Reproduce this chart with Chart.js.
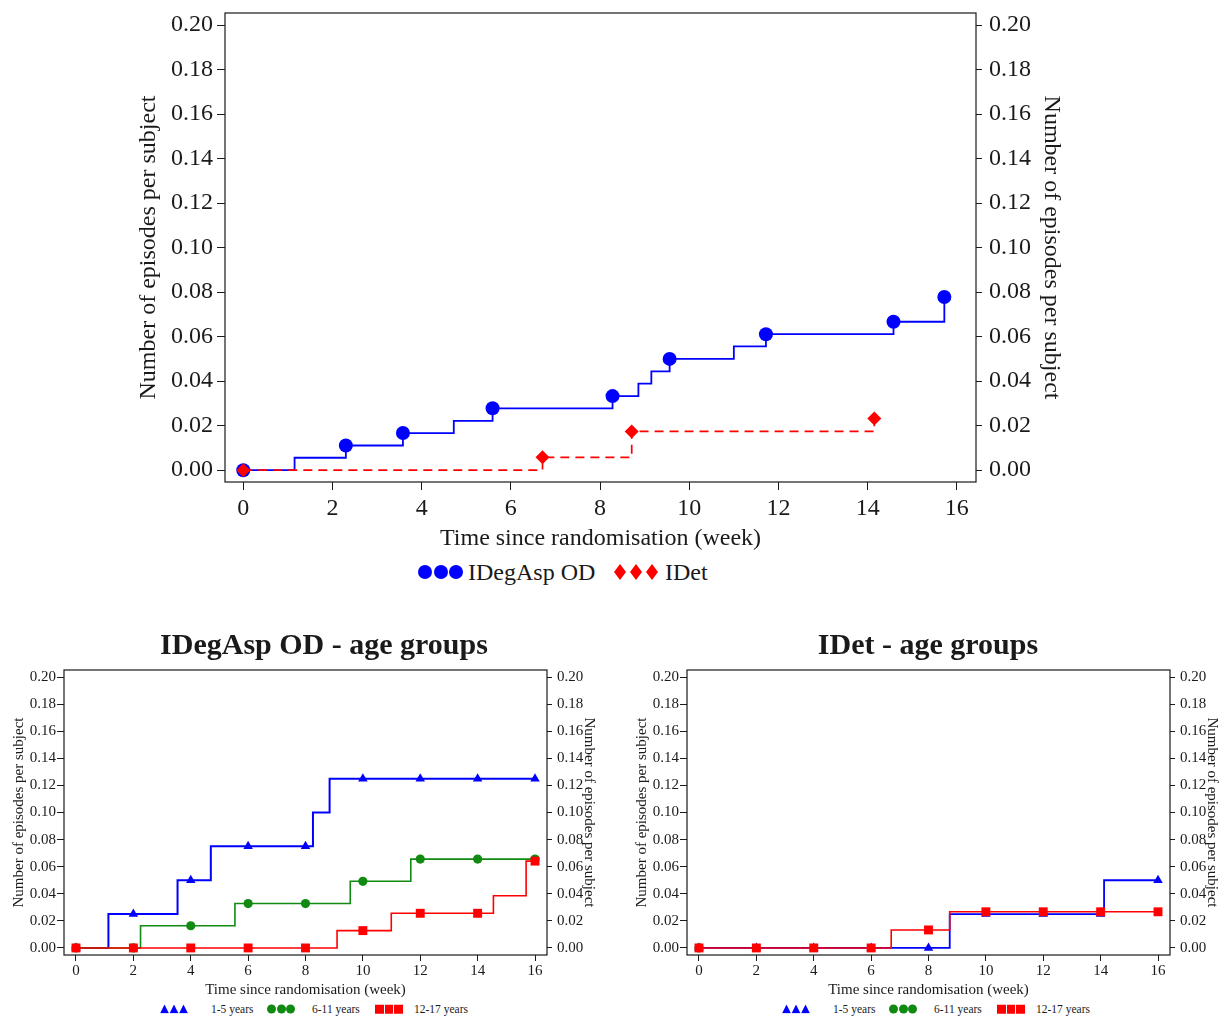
<!DOCTYPE html>
<html>
<head>
<meta charset="utf-8">
<script src="https://cdn.jsdelivr.net/npm/chart.js@4"></script>
<style>
  body{margin:0;background:#fff;width:1227px;height:1019px;position:relative;overflow:hidden;
       font-family:'Liberation Serif','Times New Roman',serif;color:#1a1a1a}
  canvas{position:absolute}
  .ttl{position:absolute;font-weight:bold;font-size:30px;transform:translate(-50%,-50%);white-space:nowrap}
  .lt{position:absolute;white-space:nowrap;transform:translateY(-50%)}
  .mk{position:absolute;transform:translateY(-50%)}
</style>
</head>
<body>
<canvas id="topChart" width="940" height="557" style="left:130px;top:0px"></canvas>
<canvas id="degChart" width="596" height="343" style="left:6px;top:660px"></canvas>
<canvas id="detChart" width="596" height="343" style="left:629px;top:660px"></canvas>

<div class="ttl" style="left:324px;top:644px">IDegAsp OD - age groups</div>
<div class="ttl" style="left:928px;top:644px">IDet - age groups</div>
<div id="legends"></div>

<script>
// ---- data ----
const weekTicks = [0, 2, 4, 6, 8, 10, 12, 14, 16];
const rateTicks = [0, 0.02, 0.04, 0.06, 0.08, 0.10, 0.12, 0.14, 0.16, 0.18, 0.20];

// top panel: whole trial
const degWeeks = [0, 1.15, 2.3, 3.58, 4.72, 5.59, 8.28, 8.86, 9.15, 9.56, 11.0, 11.72, 14.58, 15.72];
const degRate  = [0, 0.0056, 0.0111, 0.0167, 0.0222, 0.0278, 0.0333, 0.0389, 0.0444, 0.05, 0.0556, 0.0611, 0.0667, 0.0778];
const degMarkWeeks = [0, 2.3, 3.58, 5.59, 8.28, 9.56, 11.72, 14.58, 15.72];
const degMarkRate  = [0, 0.0111, 0.0167, 0.0278, 0.0333, 0.05, 0.0611, 0.0667, 0.0778];
const detWeeks = [0, 6.71, 8.71, 14.15];
const detRate  = [0, 0.0058, 0.0174, 0.0232];

// bottom-left: IDegAsp OD by age group
const degYoungWeeks = [0, 1.13, 3.54, 4.70, 8.26, 8.84, 16];
const degYoungRate  = [0, 0.025, 0.05, 0.075, 0.10, 0.125, 0.125];
const degMidWeeks = [0, 2.25, 5.54, 9.56, 11.67, 16];
const degMidRate  = [0, 0.0164, 0.0328, 0.0492, 0.0656, 0.0656];
const degOldWeeks = [0, 9.10, 10.99, 14.55, 15.69, 16];
const degOldRate  = [0, 0.0128, 0.0256, 0.0385, 0.0641, 0.0641];
const degYoungMarks = [0, 0.025, 0.05, 0.075, 0.075, 0.125, 0.125, 0.125, 0.125];
const degMidMarks   = [0, 0, 0.0164, 0.0328, 0.0328, 0.0492, 0.0656, 0.0656, 0.0656];
const degOldMarks   = [0, 0, 0, 0, 0, 0.0128, 0.0256, 0.0256, 0.0641];

// bottom-right: IDet by age group
const detYoungWeeks = [0, 8.74, 14.12, 16];
const detYoungRate  = [0, 0.025, 0.05, 0.05];
const detMidWeeks = [0];
const detMidRate  = [0];
const detOldWeeks = [0, 6.70, 8.74, 16];
const detOldRate  = [0, 0.0133, 0.0267, 0.0267];
const detYoungMarks = [0, 0, 0, 0, 0, 0.025, 0.025, 0.025, 0.05];
const detMidMarks   = [0];
const detOldMarks   = [0, 0, 0, 0, 0.0133, 0.0267, 0.0267, 0.0267, 0.0267];

const BLUE = '#0000ff', RED = '#ff0000', GREEN = '#118a11', INK = '#1a1a1a';
const SERIF = "'Liberation Serif','Times New Roman',serif";

function pts(xs, ys){ return ys.map((y,i)=>({x:xs[i], y})); }
function stepLine(xs, ys, color, width, dash){
  return {data:pts(xs,ys), borderColor:color, borderWidth:width, borderDash:dash||[],
          stepped:'before', pointRadius:0, fill:false};
}
function marks(xs, ys, color, style, r){
  return {data:pts(xs,ys), showLine:false, pointStyle:style, pointRadius:r,
          pointBackgroundColor:color, pointBorderColor:color, pointBorderWidth:0,
          borderColor:color, backgroundColor:color};
}

// R-style closed box around the plot
const boxPlugin = {
  id:'box',
  afterDraw(chart){
    const {ctx, chartArea:a} = chart;
    ctx.save(); ctx.strokeStyle = INK; ctx.lineWidth = 1.2;
    ctx.strokeRect(a.left, a.top, a.right-a.left, a.bottom-a.top);
    ctx.restore();
  }
};

function yAxis(pos, o){
  return {
    type:'linear', position:pos, min:o.ymin, max:o.ymax,
    afterBuildTicks: s=>{ s.ticks = rateTicks.map(v=>({value:v})); },
    afterFit: s=>{ s.width = pos==='left' ? o.lw : o.rw; s.paddingTop = 0; s.paddingBottom = 0; },
    ticks:{ callback:v=>v.toFixed(2), font:{family:SERIF,size:o.fs}, color:INK,
            padding: pos==='left' ? o.lpad : o.rpad },
    grid:{ drawOnChartArea:false, tickLength: pos==='left' ? o.ltl : o.rtl, color:INK, lineWidth:1 },
    border:{display:false},
    title:{ display:true, text:'Number of episodes per subject', color:INK,
            font:{family:SERIF,size:o.ts}, padding:{top:4,bottom:4} }
  };
}

function makeChart(id, datasets, o){
  return new Chart(document.getElementById(id), {
    type:'line',
    data:{datasets},
    options:{
      responsive:false, animation:false, clip:false,
      layout:{padding:{top:o.padTop, left:0, right:0, bottom:0}},
      plugins:{legend:{display:false}, tooltip:{enabled:false}},
      scales:{
        x:{
          type:'linear', min:o.xmin, max:o.xmax,
          afterBuildTicks: s=>{ s.ticks = weekTicks.map(v=>({value:v})); },
          afterFit: s=>{ s.height = o.xh; s.paddingLeft = 0; s.paddingRight = 0; },
          ticks:{ callback:v=>String(v), font:{family:SERIF,size:o.fs}, color:INK,
                  padding:o.xpad, maxRotation:0, autoSkip:false },
          grid:{ drawOnChartArea:false, tickLength:o.xtl, color:INK, lineWidth:1 },
          border:{display:false},
          title:{ display:true, text:'Time since randomisation (week)', color:INK,
                  font:{family:SERIF,size:o.ts}, padding:{top:0,bottom:4} }
        },
        y: yAxis('left', o),
        y2: yAxis('right', o)
      }
    },
    plugins:[boxPlugin]
  });
}

// top panel
makeChart('topChart', [
  marks(detWeeks, detRate, RED, 'rectRot', 7),
  stepLine(detWeeks, detRate, RED, 1.7, [9,6]),
  marks(degMarkWeeks, degMarkRate, BLUE, 'circle', 7),
  stepLine(degWeeks, degRate, BLUE, 1.8)
], {padTop:13, xmin:-0.41, xmax:16.43, ymin:-0.0053, ymax:0.2054,
    lw:95, rw:94, xh:75, fs:24, ts:24, lpad:4, rpad:7, ltl:8, rtl:6, xtl:8, xpad:4});

const smallOpts = {padTop:10, xmin:-0.418, xmax:16.418, ymin:-0.0052, ymax:0.2052,
    lw:58, rw:55, xh:48, fs:15, ts:15, lpad:1, rpad:5, ltl:7, rtl:5, xtl:6, xpad:1};

makeChart('degChart', [
  marks(weekTicks, degOldMarks, RED, 'rect', 6.3),
  stepLine(degOldWeeks, degOldRate, RED, 1.6),
  marks(weekTicks, degMidMarks, GREEN, 'circle', 4.6),
  stepLine(degMidWeeks, degMidRate, GREEN, 1.6),
  marks(weekTicks, degYoungMarks, BLUE, 'triangle', 5.5),
  stepLine(degYoungWeeks, degYoungRate, BLUE, 2)
], smallOpts);

makeChart('detChart', [
  marks(weekTicks, detOldMarks, RED, 'rect', 6.3),
  stepLine(detOldWeeks, detOldRate, RED, 1.6),
  marks(weekTicks.slice(0, detMidMarks.length), detMidMarks, GREEN, 'circle', 4.6),
  stepLine(detMidWeeks, detMidRate, GREEN, 1.6),
  marks(weekTicks, detYoungMarks, BLUE, 'triangle', 5.5),
  stepLine(detYoungWeeks, detYoungRate, BLUE, 1.8)
], smallOpts);

// legends (three markers + label, as in the R output)
const legendHost = document.getElementById('legends');
function shape(kind, color, w, h){
  const s = document.createElement('span');
  s.style.cssText = `position:absolute;width:${w}px;height:${h}px;background:${color};`;
  if(kind==='circle') s.style.borderRadius = '50%';
  if(kind==='diamond') s.style.clipPath = 'polygon(50% 0,100% 50%,50% 100%,0 50%)';
  if(kind==='triangle') s.style.clipPath = 'polygon(50% 0,100% 100%,0 100%)';
  return s;
}
function legendItem(x, y, kind, color, w, h, gap, textX, text, fs){
  const g = document.createElement('div');
  g.className = 'mk'; g.style.left = x+'px'; g.style.top = y+'px';
  g.style.width = (3*w+2*gap)+'px'; g.style.height = h+'px';
  for(let i=0;i<3;i++){ const s = shape(kind,color,w,h); s.style.left = (i*(w+gap))+'px'; s.style.top='0px'; g.appendChild(s); }
  legendHost.appendChild(g);
  const t = document.createElement('div');
  t.className = 'lt'; t.style.left = textX+'px'; t.style.top = y+'px'; t.style.fontSize = fs+'px';
  t.textContent = text;
  legendHost.appendChild(t);
}
legendItem(418, 572, 'circle', BLUE, 14, 14, 1.5, 468, 'IDegAsp OD', 24);
legendItem(614, 572, 'diamond', RED, 12, 16, 4, 665, 'IDet', 24);
[0, 622].forEach(dx=>{
  legendItem(160+dx, 1009, 'triangle', BLUE, 9, 9, 0.5, 211+dx, '1-5 years', 11.5);
  legendItem(267+dx, 1009, 'circle', GREEN, 9, 9, 0.5, 312+dx, '6-11 years', 11.5);
  legendItem(375+dx, 1009, 'square', RED, 8.5, 8.5, 1, 414+dx, '12-17 years', 11.5);
});
</script>
</body>
</html>
